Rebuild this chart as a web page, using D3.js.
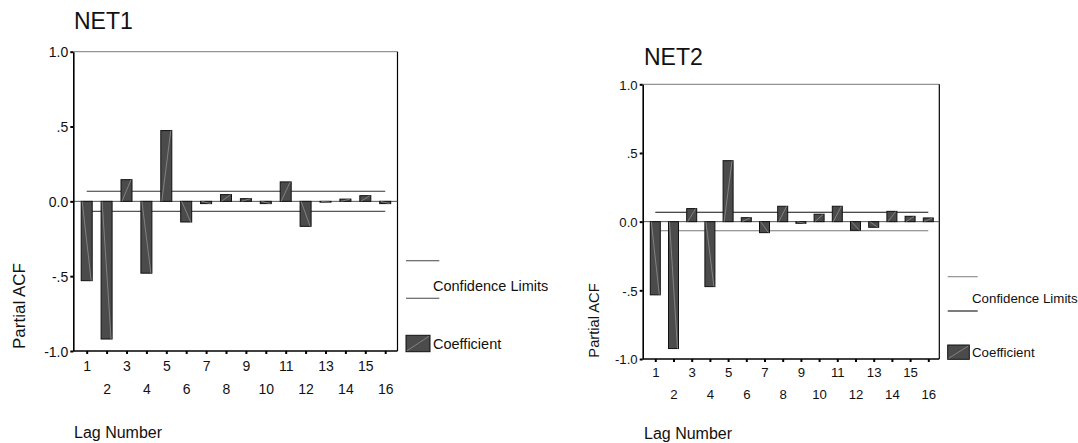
<!DOCTYPE html>
<html>
<head>
<meta charset="utf-8">
<script src="https://cdn.jsdelivr.net/npm/d3@7"></script>
<style>
  html, body { margin: 0; padding: 0; background: #fff; }
  svg { display: block; font-family: Arial, "Liberation Sans", Helvetica, sans-serif; }
</style>
</head>
<body>
<svg id="chart" width="1078" height="443"></svg>
<script>
// Lags and partial autocorrelation coefficients for each series
const lags = [1, 2, 3, 4, 5, 6, 7, 8, 9, 10, 11, 12, 13, 14, 15, 16];
const net1Pacf = [-0.53, -0.92, 0.145, -0.48, 0.473, -0.138, -0.015, 0.045, 0.018, -0.015, 0.13, -0.167, -0.005, 0.015, 0.038, -0.015];
const net2Pacf = [-0.533, -0.924, 0.095, -0.473, 0.444, 0.029, -0.08, 0.112, -0.012, 0.054, 0.112, -0.063, -0.041, 0.075, 0.039, 0.027];
const net1Conf = [0.067, -0.067];
const net2Conf = [0.068, -0.066];
const yTickValues = [-1, -0.5, 0, 0.5, 1];
const yTickLabels = ["-1.0", "-.5", "0.0", ".5", "1.0"];
const legendLabels = ["Confidence Limits", "Coefficient"];
const axisTitles = ["Partial ACF", "Lag Number"];

const svg = d3.select("#chart");

function drawPanel(p, title, values, conf) {
  const g = svg.append("g");

  const y = d3.scaleLinear().domain([-1, 1]).range([p.yBottom, p.yTop]);
  const x = d3.scaleLinear().domain([1, 16]).range([p.lagFirst, p.lagLast]);

  // frame: top (grey) and right (black)
  g.append("line").attr("x1", p.x0).attr("x2", p.x1).attr("y1", p.yTop).attr("y2", p.yTop)
    .attr("stroke", "#7a7a7a").attr("stroke-width", 1);
  g.append("line").attr("x1", p.x1).attr("x2", p.x1).attr("y1", p.yTop).attr("y2", p.yBottom)
    .attr("stroke", "#000").attr("stroke-width", 1.2);

  // zero reference line
  g.append("line").attr("x1", p.x0).attr("x2", p.x1).attr("y1", y(0)).attr("y2", y(0))
    .attr("stroke", "#555").attr("stroke-width", 1);

  // confidence limits
  g.append("line").attr("x1", x(1)).attr("x2", x(16)).attr("y1", y(conf[0])).attr("y2", y(conf[0]))
    .attr("stroke", p.confColors[0]).attr("stroke-width", 1.1);
  g.append("line").attr("x1", x(1)).attr("x2", x(16)).attr("y1", y(conf[1])).attr("y2", y(conf[1]))
    .attr("stroke", p.confColors[1]).attr("stroke-width", 1.1);

  // coefficient bars
  const bars = g.append("g").selectAll("g").data(lags.map((l, i) => ({ lag: l, v: values[i] }))).join("g");
  bars.append("rect")
    .attr("x", d => x(d.lag) - p.barW / 2)
    .attr("y", d => Math.min(y(0), y(d.v)))
    .attr("width", p.barW)
    .attr("height", d => Math.max(0.8, Math.abs(y(d.v) - y(0))))
    .attr("fill", "#4b4b4b").attr("stroke", "#111").attr("stroke-width", 1);
  bars.append("line")
    .attr("x1", d => x(d.lag) - p.barW / 2 + 1)
    .attr("y1", y(0))
    .attr("x2", d => x(d.lag) + p.barW / 2 - 1)
    .attr("y2", d => y(d.v))
    .attr("stroke", "#9a9a9a").attr("stroke-width", 0.7);

  // y axis
  const yAxis = d3.axisLeft(y).tickValues(yTickValues)
    .tickFormat((d, i) => yTickLabels[i]).tickSize(3).tickSizeOuter(0);
  const ya = g.append("g").attr("transform", `translate(${p.x0},0)`).call(yAxis);
  ya.select(".domain").attr("stroke", "#000").attr("stroke-width", 1.6);
  ya.selectAll(".tick line").attr("stroke", "#000").attr("stroke-width", 2);
  ya.selectAll(".tick text").attr("font-size", p.tickFont).attr("font-family", "Arial, 'Liberation Sans', sans-serif")
    .attr("fill", "#111").attr("x", -5).attr("dy", "0.36em");

  // x axis with staggered lag labels
  const xAxis = d3.axisBottom(x).tickValues(lags).tickSize(3).tickSizeOuter(0).tickFormat(d3.format("d"));
  const xa = g.append("g").attr("transform", `translate(0,${p.yBottom})`).call(xAxis);
  xa.select(".domain").remove();
  g.append("line").attr("x1", p.x0).attr("x2", p.x1).attr("y1", p.yBottom).attr("y2", p.yBottom)
    .attr("stroke", "#000").attr("stroke-width", 1.6);
  xa.selectAll(".tick line").attr("stroke", "#000").attr("stroke-width", 2);
  xa.selectAll(".tick text").attr("font-size", p.tickFont).attr("font-family", "Arial, 'Liberation Sans', sans-serif")
    .attr("fill", "#111").attr("dy", null)
    .attr("y", d => d % 2 === 1 ? p.oddBase : p.evenBase);

  // titles
  g.append("text").attr("x", p.titleX).attr("y", p.titleY).attr("font-size", 23).attr("fill", "#111").text(title);
  g.append("text").attr("transform", `translate(${p.yTitleX},${p.yTitleY}) rotate(-90)`)
    .attr("text-anchor", "middle").attr("font-size", p.yTitleFont).attr("fill", "#111").text(axisTitles[0]);
  g.append("text").attr("x", p.xTitleX).attr("y", p.xTitleY).attr("font-size", 16).attr("fill", "#111").text(axisTitles[1]);

  // legend
  const L = p.legend;
  g.append("line").attr("x1", L.x0).attr("x2", L.x1).attr("y1", L.line1).attr("y2", L.line1)
    .attr("stroke", L.colors[0]).attr("stroke-width", 1.1);
  g.append("line").attr("x1", L.x0).attr("x2", L.x1).attr("y1", L.line2).attr("y2", L.line2)
    .attr("stroke", L.colors[1]).attr("stroke-width", 1.1);
  g.append("text").attr("x", L.textX).attr("y", L.confBase).attr("font-size", L.font).attr("fill", "#111").text(legendLabels[0]);
  g.append("rect").attr("x", L.x0).attr("y", L.swTop).attr("width", L.swW).attr("height", L.swH)
    .attr("fill", "#4b4b4b").attr("stroke", "#111").attr("stroke-width", 1);
  g.append("line").attr("x1", L.x0 + 1).attr("y1", L.swTop + L.swH - 1).attr("x2", L.x0 + L.swW - 1).attr("y2", L.swTop + 1)
    .attr("stroke", "#9a9a9a").attr("stroke-width", 0.7);
  g.append("text").attr("x", L.textX).attr("y", L.coefBase).attr("font-size", L.font).attr("fill", "#111").text(legendLabels[1]);
}

drawPanel({
  x0: 73.3, x1: 397.5, yTop: 51.7, yBottom: 351,
  lagFirst: 86.7, lagLast: 385.2, barW: 11,
  confColors: ["#333", "#555"],
  tickFont: 14, oddBase: 20, evenBase: 42.5,
  titleX: 74, titleY: 28.5,
  yTitleX: 24.5, yTitleY: 306, yTitleFont: 17,
  xTitleX: 74, xTitleY: 437.5,
  legend: { x0: 406, x1: 439.3, line1: 260.7, line2: 298.3, colors: ["#444", "#444"],
            textX: 433, confBase: 290.7, coefBase: 348.5, swTop: 335.3, swW: 24, swH: 16.4, font: 14.5 }
}, "NET1", net1Pacf, net1Conf);

drawPanel({
  x0: 642.7, x1: 939.3, yTop: 84.3, yBottom: 359,
  lagFirst: 655.3, lagLast: 928.3, barW: 10,
  confColors: ["#111", "#777"],
  tickFont: 13.2, oddBase: 17.5, evenBase: 40,
  titleX: 644, titleY: 65,
  yTitleX: 599, yTitleY: 320.5, yTitleFont: 14.7,
  xTitleX: 644, xTitleY: 439,
  legend: { x0: 947.7, x1: 977.7, line1: 276.7, line2: 311, colors: ["#888", "#111"],
            textX: 972, confBase: 303.3, coefBase: 357, swTop: 345, swW: 21.6, swH: 14.3, font: 13.3 }
}, "NET2", net2Pacf, net2Conf);
</script>
</body>
</html>
